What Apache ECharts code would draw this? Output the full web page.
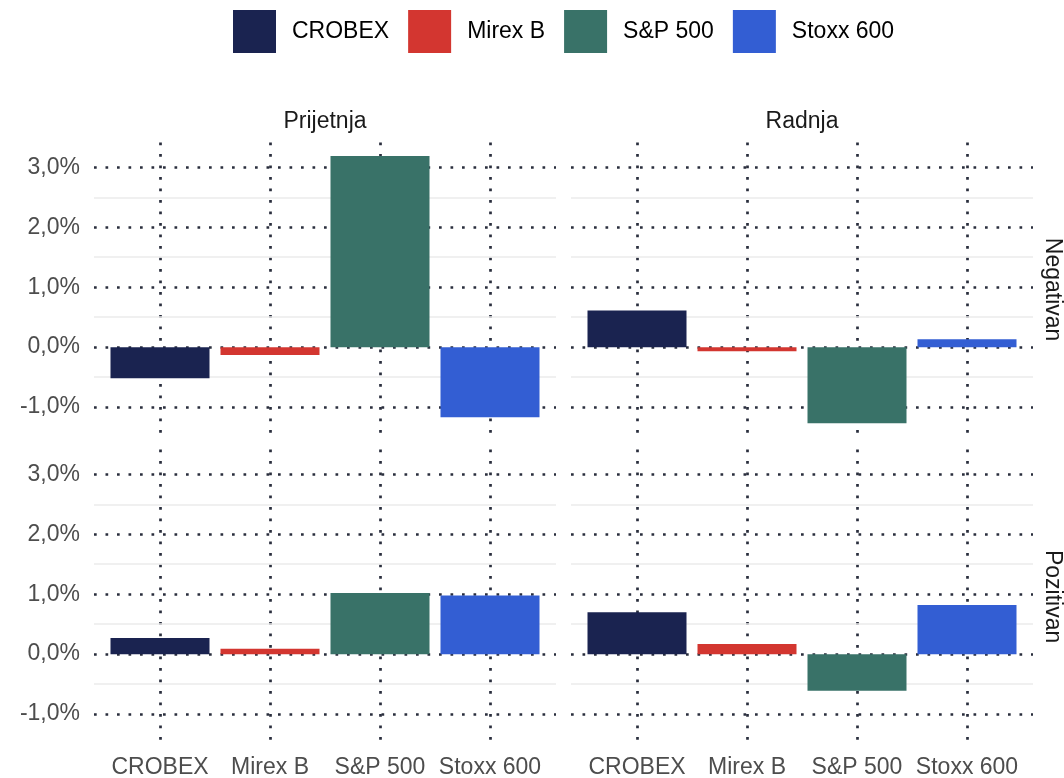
<!DOCTYPE html>
<html>
<head>
<meta charset="utf-8">
<title>Prijetnja / Radnja</title>
<script src="https://cdn.jsdelivr.net/npm/echarts@6/dist/echarts.min.js"></script>
<style>
  html, body { margin: 0; padding: 0; background: #fff; }
  #chart { width: 1064px; height: 778px; }
</style>
</head>
<body>
<div id="chart"></div>
<script>
// indeksi i boje
const indices = ['CROBEX', 'Mirex B', 'S&P 500', 'Stoxx 600'];
const colors = ['#1a2350', '#d33630', '#397268', '#335ed3'];

// fasete: stupci i redovi
const facetCols = ['Prijetnja', 'Radnja'];
const facetRows = ['Negativan', 'Pozitivan'];

// promjene u % (red Negativan)
const prijetnjaNegativan = [-0.52, -0.13, 3.19, -1.17];
const radnjaNegativan = [0.61, -0.07, -1.27, 0.13];
// promjene u % (red Pozitivan)
const prijetnjaPozitivan = [0.27, 0.09, 1.02, 0.98];
const radnjaPozitivan = [0.70, 0.17, -0.61, 0.82];

// sporedne linije mreze
const minorBreaks = [-0.5, 0.5, 1.5, 2.5];

const panels = [
  { row: 0, col: 0, values: prijetnjaNegativan },
  { row: 0, col: 1, values: radnjaNegativan },
  { row: 1, col: 0, values: prijetnjaPozitivan },
  { row: 1, col: 1, values: radnjaPozitivan }
];

// raspored panela
const panelLeft = [94, 571];
const panelTop = [142.6, 449.6];
const panelWidth = 462;
const panelHeight = 294;

const FONT = "'Liberation Sans', Arial, Helvetica, sans-serif";
const dotted = { color: '#2a2e3d', width: 2.7, type: [2.7, 8.8], cap: 'butt' };

// ggplot: 5% prosirenje na y, 0.6 jedinice na diskretnoj x osi
const allVals = [].concat(prijetnjaNegativan, radnjaNegativan, prijetnjaPozitivan, radnjaPozitivan);
const lo = Math.min(0, ...allVals);
const hi = Math.max(0, ...allVals);
const yMin = lo - 0.05 * (hi - lo);
const yMax = hi + 0.05 * (hi - lo);
const xMin = 0.4, xMax = indices.length + 0.6;
const unit = panelWidth / (xMax - xMin);

function pct(v) {
  return v.toFixed(1).replace('.', ',') + '%';
}

let grids = [], xAxes = [], yAxes = [], series = [];

panels.forEach(function (p, i) {
  grids.push({
    left: panelLeft[p.col],
    top: panelTop[p.row],
    width: panelWidth,
    height: panelHeight,
    containLabel: false,
    outerBoundsMode: 'none'
  });
  xAxes.push({
    gridIndex: i,
    type: 'value',
    min: xMin,
    max: xMax,
    minInterval: 1,
    maxInterval: 1,
    axisLine: { show: false },
    axisTick: { show: false },
    axisLabel: {
      show: p.row === 1,
      showMinLabel: false,
      showMaxLabel: false,
      margin: 13,
      color: '#4d4d4d',
      fontSize: 23,
      fontFamily: FONT,
      formatter: function (v) { return indices[v - 1] || ''; }
    },
    splitLine: { show: true, showMinLine: false, showMaxLine: false, lineStyle: dotted }
  });
  yAxes.push({
    gridIndex: i,
    type: 'value',
    min: yMin,
    max: yMax,
    minInterval: 1,
    maxInterval: 1,
    axisLine: { show: false },
    axisTick: { show: false },
    axisLabel: {
      show: p.col === 0,
      showMinLabel: false,
      showMaxLabel: false,
      margin: 14,
      padding: [3, 0, 0, 0],
      color: '#4d4d4d',
      fontSize: 23,
      fontFamily: FONT,
      formatter: pct
    },
    splitLine: { show: true, showMinLine: false, showMaxLine: false, lineStyle: dotted }
  });

  indices.forEach(function (name, k) {
    let s = {
      name: name,
      type: 'bar',
      xAxisIndex: i,
      yAxisIndex: i,
      barWidth: unit * 0.9,
      barGap: '-100%',
      itemStyle: { color: colors[k] },
      data: [[k + 1, p.values[k]]]
    };
    if (k === 0) {
      // svijetle sporedne linije ispod stupaca
      s.markLine = {
        silent: true,
        z: 1,
        symbol: 'none',
        label: { show: false },
        lineStyle: { color: '#ebebeb', width: 1.5, type: 'solid' },
        data: minorBreaks.map(function (v) { return { yAxis: v }; })
      };
    }
    series.push(s);
  });
});

// natpisi faseta
let graphics = [];
facetCols.forEach(function (t, c) {
  graphics.push({
    type: 'text',
    x: panelLeft[c] + panelWidth / 2,
    y: panelTop[0] - 21,
    style: { text: t, align: 'center', verticalAlign: 'middle', fill: '#1a1a1a', font: '23px ' + FONT }
  });
});
facetRows.forEach(function (t, r) {
  graphics.push({
    type: 'text',
    x: panelLeft[1] + panelWidth + 19,
    y: panelTop[r] + panelHeight / 2,
    rotation: -Math.PI / 2,
    style: { text: t, align: 'center', verticalAlign: 'middle', fill: '#1a1a1a', font: '23px ' + FONT }
  });
});

let chart = echarts.init(document.getElementById('chart'));
chart.setOption({
  animation: false,
  backgroundColor: '#fff',
  textStyle: { fontFamily: FONT },
  legend: {
    top: 5,
    left: 228,
    icon: 'rect',
    itemWidth: 43,
    itemHeight: 43,
    itemGap: 19,
    data: indices,
    textStyle: { color: '#000', fontSize: 23, fontFamily: FONT, padding: [0, 0, 0, 11] }
  },
  grid: grids,
  xAxis: xAxes,
  yAxis: yAxes,
  series: series,
  graphic: graphics
});
</script>
</body>
</html>
